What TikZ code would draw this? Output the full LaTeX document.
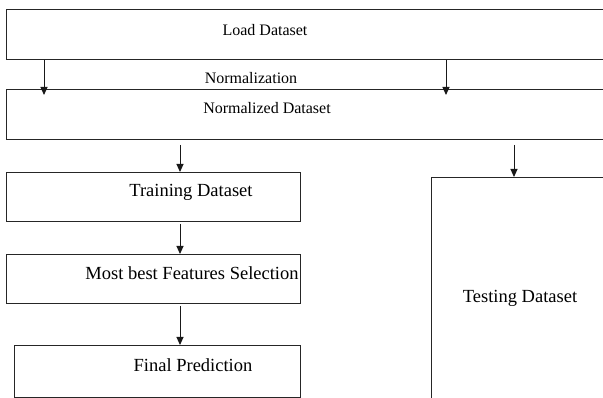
\documentclass[tikz,border=0pt]{standalone}
\usepackage{fontspec}
\setmainfont{Liberation Serif}
\usetikzlibrary{arrows.meta}

\begin{document}
\begin{tikzpicture}[x=1pt,y=-1pt,
    box/.style={draw=black!85,line width=1pt,rectangle,inner sep=0pt,anchor=north west},
    lbl/.style={font=\fontsize{16}{19}\selectfont},
    biglbl/.style={font=\fontsize{18.5}{22}\selectfont},
    arr/.style={-{Triangle[length=8pt,width=7pt]},line width=1pt,draw=black!90}]
    \clip (0,0) rectangle (603,398);

    % boxes
    \node[box,minimum width=700pt,minimum height=50pt](load) at (6,9){};
    \node[box,minimum width=700pt,minimum height=50pt](norm) at (6,89){};
    \node[box,minimum width=294pt,minimum height=49pt](train) at (6,172){};
    \node[box,minimum width=294pt,minimum height=49pt](feat) at (6,254){};
    \node[box,minimum width=286pt,minimum height=52pt](final) at (14,345){};
    \node[box,minimum width=300pt,minimum height=300pt](test) at (431,177){};

    % texts
    \node[lbl](loadtxt) at (265,30){Load Dataset};
    \node[lbl](normtxt) at (251,78){Normalization};
    \node[lbl](normdtxt) at (267,108){Normalized Dataset};
    \node[biglbl](traintxt) at (191,192){Training Dataset};
    \node[biglbl](feattxt) at (192,273){Most best Features Selection};
    \node[biglbl](finaltxt) at (193,365){Final Prediction};
    \node[biglbl](testtxt) at (520,298){Testing Dataset};

    % arrows
    \coordinate(lx) at (44,0);
    \coordinate(rx) at (446,0);
    \coordinate(cx) at (180,0);
    \coordinate(tx) at (514,0);
    \draw[arr,shorten >=-6pt](load.south -| lx)--(norm.north -| lx);
    \draw[arr,shorten >=-6pt](load.south -| rx)--(norm.north -| rx);
    \draw[arr,shorten <=5pt](norm.south -| cx)--(train.north -| cx);
    \draw[arr,shorten <=2pt](train.south -| cx)--(feat.north -| cx);
    \draw[arr,shorten <=2pt](feat.south -| cx)--(final.north -| cx);
    \draw[arr,shorten <=5pt](norm.south -| tx)--(test.north -| tx);
\end{tikzpicture}
\end{document}
